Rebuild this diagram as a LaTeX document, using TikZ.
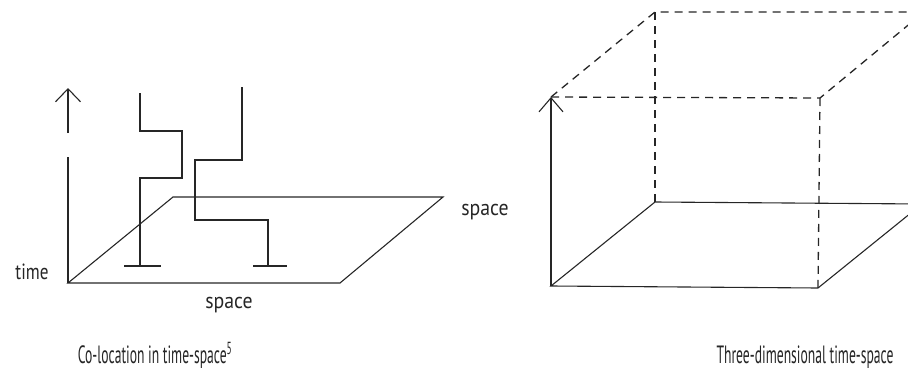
\documentclass[tikz,border=0pt]{standalone}
\usepackage{fontspec}
\setmainfont{PT Sans}
\usetikzlibrary{arrows.meta}
\tikzset{
  ln/.style={line width=1.1pt, black!85},
  dsh/.style={ln, line width=1.3pt, dash pattern=on 8pt off 6pt},
  lbl/.style={inner sep=0pt, font=\fontsize{22}{24}\selectfont, text=black!85},
  captxt/.style={inner sep=0pt, font=\fontsize{25}{27}\selectfont, text=black!85}
}
\begin{document}
\begin{tikzpicture}[x=1pt,y=-1pt]
\useasboundingbox (0,0) rectangle (908,372);
\clip (0,0) rectangle (908,372);
% ---------- left panel ----------
\coordinate (O) at (68,283);
\coordinate (BR) at (340,283);
\coordinate (TR) at (443,197);
\coordinate (TL) at (173,197);
\coordinate (axA) at (68,157);
\coordinate (arB) at (68,133);
\coordinate (arT) at (68,88);
\draw[ln] (O) -- (BR) -- (TR) -- (TL) -- cycle;
\draw[ln] (O) -- (axA);
\draw[ln, -{Straight Barb[length=13pt,width=25pt]}] (arB) -- (arT);
% worldline 1
\draw[ln] (140,93) -- (140,131) -- (182,131) -- (182,178) -- (140,178) -- (140,266);
\draw[ln] (124,266) -- (161,266);
% worldline 2
\draw[ln] (242,87) -- (242,160) -- (195,160) -- (195,220) -- (268,220) -- (268,266);
\draw[ln] (253,266) -- (287,266);
\node[lbl] (t) at (32,272) {\scalebox{0.78}[1]{time}};
\node[lbl] (s1) at (229,305) {\scalebox{0.9}[1]{space}};
\node[lbl] (s2) at (485,212) {\scalebox{0.9}[1]{space}};
\node[captxt] (c1) at (155,355) {\scalebox{0.545}[1]{Co-location in time-space\textsuperscript{5}}};
% ---------- right panel ----------
\coordinate (P0) at (551,286);
\coordinate (P1) at (818,288);
\coordinate (P2) at (922,204);
\coordinate (P3) at (655,202);
\coordinate (Q0) at (551,97);
\coordinate (Q1) at (820,98);
\coordinate (Q2) at (924,12);
\coordinate (Q3) at (655,12);
\draw[ln] (P1) -- (P0) -- (P3) -- (P2);
\draw[ln] (P1) -- (P2);
\draw[ln, -{Straight Barb[length=14pt,width=24pt]}] (P0) -- (Q0);
\draw[dsh] (Q0) -- (Q1) -- (Q2);
\draw[dsh] (Q0) -- (Q3) -- (Q2);
\draw[dsh] (Q1) -- (P1);
\draw[dsh] (Q3) -- (P3);
\node[captxt] (c2) at (805,357) {\scalebox{0.545}[1]{Three-dimensional time-space}};
\end{tikzpicture}
\end{document}
